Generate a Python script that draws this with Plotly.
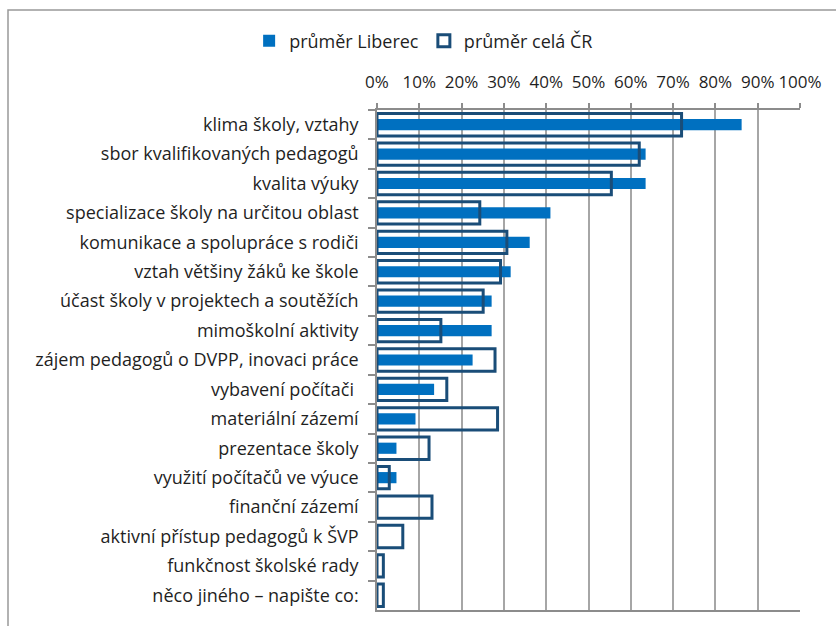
import plotly.graph_objects as go

# Survey categories (top to bottom) and the share of answers per group
categories = [
    "klima školy, vztahy",
    "sbor kvalifikovaných pedagogů",
    "kvalita výuky",
    "specializace školy na určitou oblast",
    "komunikace a spolupráce s rodiči",
    "vztah většiny žáků ke škole",
    "účast školy v projektech a soutěžích",
    "mimoškolní aktivity",
    "zájem pedagogů o DVPP, inovaci práce",
    "vybavení počítači ",
    "materiální zázemí",
    "prezentace školy",
    "využití počítačů ve výuce",
    "finanční zázemí",
    "aktivní přístup pedagogů k ŠVP",
    "funkčnost školské rady",
    "něco jiného – napište co:",
]
liberec = [0.862, 0.635, 0.635, 0.41, 0.361, 0.316, 0.271, 0.271, 0.226, 0.135,
           0.091, 0.046, 0.046, 0.0, 0.0, 0.0, 0.0]
cela_cr = [0.72, 0.62, 0.554, 0.243, 0.307, 0.292, 0.251, 0.151, 0.279, 0.165,
           0.285, 0.123, 0.029, 0.13, 0.061, 0.015, 0.015]
x_ticks = [i / 10 for i in range(11)]
x_tick_labels = [f"{i * 10}%" for i in range(11)]

FONT = "Open Sans"
TEXT = "#1f1f1f"
GRID = "#a6a6a6"

fig = go.Figure()
fig.add_trace(go.Bar(
    y=categories, x=liberec, orientation="h", name="průměr Liberec",
    marker=dict(color="#0070c0", line=dict(width=0)), width=0.38,
))
fig.add_trace(go.Bar(
    y=categories, x=cela_cr, orientation="h", name="průměr celá ČR",
    marker=dict(color="rgba(255,255,255,0)", line=dict(color="#1a4d78", width=3)),
    width=0.76,
))

fig.update_layout(
    width=836, height=626,
    margin=dict(l=377, r=36, t=110, b=16, autoexpand=False),
    paper_bgcolor="white", plot_bgcolor="white",
    barmode="overlay",
    font=dict(family=FONT, size=18, color=TEXT),
    showlegend=True,
    legend=dict(
        orientation="h", xref="container", yref="container",
        x=0.298, y=1 - 41 / 626, xanchor="left", yanchor="middle",
        font=dict(family=FONT, size=18, color=TEXT),
        bgcolor="rgba(0,0,0,0)",
        itemwidth=30, traceorder="normal", tracegroupgap=0,
    ),
    xaxis=dict(
        side="top", range=[0, 1], tickvals=x_ticks, ticktext=x_tick_labels,
        tickfont=dict(size=17), tickangle=0, automargin=False,
        showgrid=True, gridcolor=GRID, gridwidth=1.5,
        showline=True, linecolor="#8c8c8c", linewidth=1.5, mirror=True,
        ticks="outside", ticklen=5, tickcolor="#8c8c8c", tickwidth=1.5,
        ticklabelstandoff=8, zeroline=False, fixedrange=True,
    ),
    yaxis=dict(
        autorange="reversed", showgrid=False, automargin=False,
        showline=True, linecolor="#8c8c8c", linewidth=1.5,
        ticks="outside", ticklen=7, tickcolor="#8c8c8c", tickwidth=1.5,
        tickson="boundaries", ticklabelstandoff=13, fixedrange=True,
    ),
    shapes=[dict(
        type="rect", xref="paper", yref="paper", layer="below",
        x0=(8 - 377) / 423, x1=1.2, y0=-0.2, y1=1 + (110 - 10) / 500,
        line=dict(color="#999999", width=1.5), fillcolor="rgba(0,0,0,0)",
    )],
)

fig.write_html("out.html")
